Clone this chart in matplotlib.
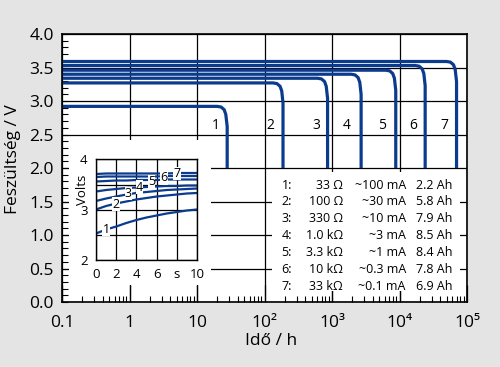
import numpy as np
import matplotlib
matplotlib.use('Agg')
import matplotlib.pyplot as plt
from matplotlib.patches import Rectangle
from matplotlib.ticker import LogLocator, MultipleLocator, NullFormatter

plt.rcParams['font.family'] = ['Open Sans', 'DejaVu Sans']

# discharge curves, time in h and cell voltage in V
t1 = [0.1, 20, 22.8, 25.3, 26.7, 28, 28]
v1 = [2.92, 2.92, 2.91, 2.87, 2.80, 2.62, 2.0]
t2 = [0.1, 134, 153, 170, 180, 188, 188]
v2 = [3.27, 3.27, 3.26, 3.22, 3.15, 2.97, 2.0]
t3 = [0.1, 611, 699, 776, 821, 860, 860]
v3 = [3.34, 3.34, 3.33, 3.29, 3.22, 3.04, 2.0]
t4 = [0.1, 1920, 2195, 2435, 2579, 2700, 2700]
v4 = [3.40, 3.40, 3.39, 3.35, 3.28, 3.10, 2.0]
t5 = [0.1, 6257, 7154, 7938, 8404, 8800, 8800]
v5 = [3.46, 3.46, 3.45, 3.41, 3.34, 3.16, 2.0]
t6 = [0.1, 17060, 19510, 21650, 22920, 24000, 24000]
v6 = [3.53, 3.53, 3.52, 3.48, 3.41, 3.23, 2.0]
t7 = [0.1, 49770, 56910, 63140, 66850, 70000, 70000]
v7 = [3.59, 3.59, 3.58, 3.54, 3.47, 3.29, 2.0]
curve_names = ['1', '2', '3', '4', '5', '6', '7']

# first seconds of the discharge (inset)
ts = [0, 1, 2, 3, 4, 5, 6, 7, 8, 9, 10]
s1 = [2.52, 2.60, 2.66, 2.73, 2.79, 2.84, 2.88, 2.92, 2.95, 2.98, 3.00]
s2 = [3.00, 3.07, 3.12, 3.16, 3.20, 3.23, 3.26, 3.28, 3.30, 3.32, 3.33]
s3 = [3.17, 3.22, 3.26, 3.30, 3.33, 3.35, 3.37, 3.39, 3.40, 3.41, 3.42]
s4 = [3.36, 3.39, 3.41, 3.43, 3.44, 3.45, 3.46, 3.47, 3.47, 3.48, 3.48]
s5 = [3.56, 3.57, 3.58, 3.58, 3.59, 3.59, 3.59, 3.60, 3.60, 3.60, 3.60]
s6 = [3.65, 3.66, 3.66, 3.66, 3.66, 3.66, 3.66, 3.67, 3.67, 3.67, 3.67]
s7 = [3.71, 3.72, 3.72, 3.72, 3.72, 3.72, 3.72, 3.72, 3.73, 3.73, 3.73]

# table of loads
loads = ['33 Ω', '100 Ω', '330 Ω', '1.0 kΩ', '3.3 kΩ', '10 kΩ', '33 kΩ']
currents = ['~100 mA', '~30 mA', '~10 mA', '~3 mA', '~1 mA', '~0.3 mA', '~0.1 mA']
capacity = ['2.2 Ah', '5.8 Ah', '7.9 Ah', '8.5 Ah', '8.4 Ah', '7.8 Ah', '6.9 Ah']

blue = '#0b3b8c'

fig = plt.figure(figsize=(5, 3.67), dpi=100, facecolor='#e4e4e4')
ax = fig.add_axes([0.124, 0.1771, 0.81, 0.7302])

for t, v in [(t1, v1), (t2, v2), (t3, v3), (t4, v4), (t5, v5), (t6, v6), (t7, v7)]:
    ax.plot(t, v, color=blue, lw=2.3, solid_joinstyle='round', solid_capstyle='butt', zorder=2)

# curve numbers
label_x = [19, 120, 580, 1670, 5500, 15800, 45600]
for x, name in zip(label_x, curve_names):
    ax.text(x, 2.64, name, fontsize=10, ha='center', va='center', zorder=3)

ax.set_xscale('log')
ax.set_xlim(0.1, 1e5)
ax.set_ylim(0, 4)
ax.set_xticks([0.1, 1, 10, 100, 1000, 1e4, 1e5],
              ['0.1', '1', '10', '10²', '10³', '10⁴', '10⁵'])
ax.xaxis.set_minor_locator(LogLocator(base=10, subs=np.arange(2, 10)))
ax.xaxis.set_minor_formatter(NullFormatter())
ax.yaxis.set_major_locator(MultipleLocator(0.5))
ax.yaxis.set_minor_locator(MultipleLocator(0.1))
ax.yaxis.set_major_formatter(matplotlib.ticker.FormatStrFormatter('%.1f'))
ax.grid(True, which='major', color='black', lw=0.9)
ax.tick_params(axis='x', which='major', direction='in', length=12, width=0.9, pad=9, labelsize=12.5)
ax.tick_params(axis='x', which='minor', direction='in', length=4.5, width=0.8)
ax.tick_params(axis='y', which='both', direction='in', length=4.5, width=0.8, pad=6, labelsize=12.5)
for s in ax.spines.values():
    s.set_linewidth(1.2)

ax.set_xlabel('Idő / h', fontsize=12.5)
ax.set_ylabel('Feszültség / V', fontsize=12.5)
ax.xaxis.set_label_coords(0.516, -0.116)
ax.yaxis.set_label_coords(-0.1, 0.534)

# white areas under the inset and the table
ax.add_patch(Rectangle((0.0173, 0.0634), 0.351, 0.541, transform=ax.transAxes,
                       facecolor='white', edgecolor='none', zorder=1.8))
ax.add_patch(Rectangle((0.5185, 0.041), 0.464, 0.444, transform=ax.transAxes,
                       facecolor='white', edgecolor='none', zorder=1.8))

# table
row_y0 = (302 - 185) / 268
row_dy = 16.9 / 268
for i in range(7):
    y = row_y0 - i * row_dy
    ax.text(0.568, y, curve_names[i] + ':', transform=ax.transAxes, ha='right', va='center', fontsize=9, zorder=3)
    ax.text(0.694, y, loads[i], transform=ax.transAxes, ha='right', va='center', fontsize=9, zorder=3)
    ax.text(0.849, y, currents[i], transform=ax.transAxes, ha='right', va='center', fontsize=9, zorder=3)
    ax.text(0.874, y, capacity[i], transform=ax.transAxes, ha='left', va='center', fontsize=9, zorder=3)

# inset
axi = fig.add_axes([0.192, 0.2929, 0.202, 0.2725])
for s, name in zip([s1, s2, s3, s4, s5, s6, s7], curve_names):
    axi.plot(ts, s, color=blue, lw=1.6, zorder=2)
inset_lx = [1.0, 2.0, 3.2, 4.3, 5.5, 6.7, 8.0]
inset_ly = [2.61, 3.11, 3.32, 3.45, 3.55, 3.63, 3.72]
for x, y, name in zip(inset_lx, inset_ly, curve_names):
    axi.text(x, y, name, fontsize=9, ha='center', va='center', zorder=3,
             bbox=dict(facecolor='white', edgecolor='none', pad=0.2))
axi.set_xlim(0, 10)
axi.set_ylim(2, 4)
axi.set_xticks([0, 2, 4, 6, 8, 10], ['0', '2', '4', '6', 's', '10'])
axi.set_yticks([2, 2.5, 3, 3.5, 4], ['2', '', '3', '', '4'])
axi.grid(True, color='black', lw=0.9)
axi.tick_params(length=0, labelsize=9.5, pad=6)
for s in axi.spines.values():
    s.set_linewidth(1.0)
axi.text(-0.13, 0.7, 'Volts', transform=axi.transAxes, rotation=90,
         ha='center', va='center', fontsize=9.5)

fig.savefig('out.png', dpi=100, facecolor=fig.get_facecolor())
